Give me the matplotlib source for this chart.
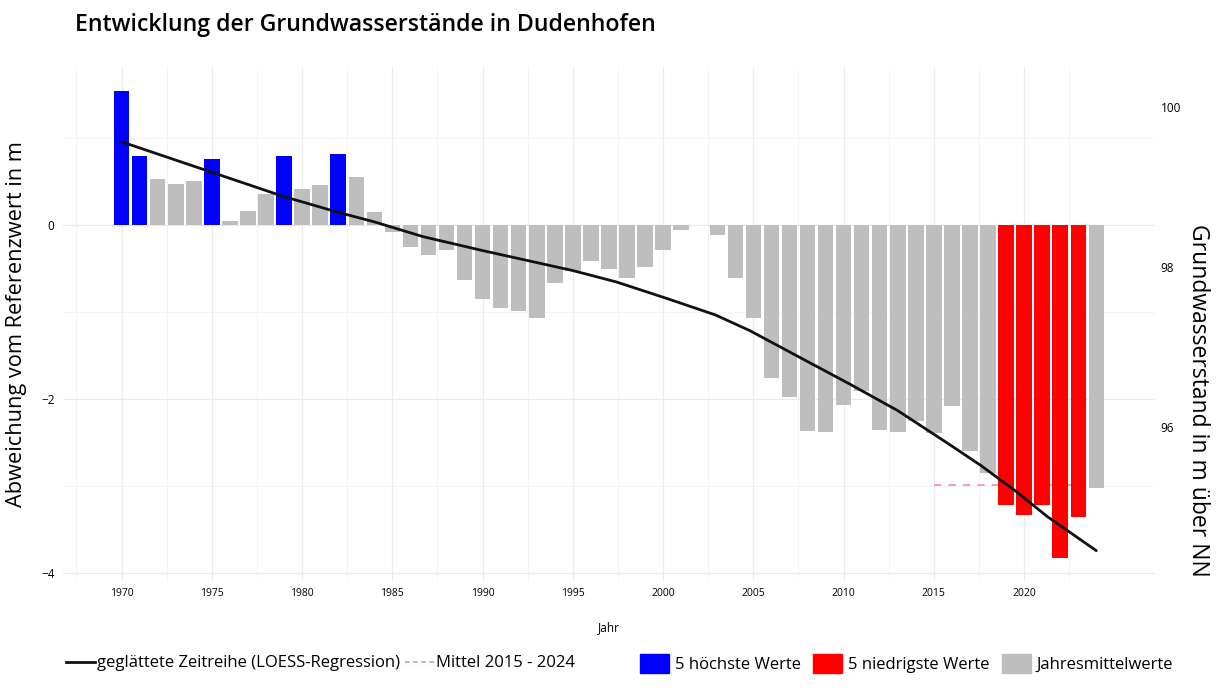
import numpy as np
import matplotlib
matplotlib.use("Agg")
import matplotlib.pyplot as plt
from matplotlib.patches import Patch
from matplotlib.lines import Line2D

plt.rcParams['font.family'] = ['Open Sans', 'DejaVu Sans']

# Jahresmittel der Abweichung vom Referenzwert (m), 2002 ohne Wert
jahre = np.arange(1970, 2025)
abweichung = [
    1.55, 0.80, 0.53, 0.48, 0.51, 0.76, 0.05, 0.16, 0.36, 0.80,   # 1970-1979
    0.42, 0.46, 0.82, 0.56, 0.15, -0.08, -0.25, -0.34, -0.28, -0.63,  # 1980-1989
    -0.85, -0.95, -0.98, -1.07, -0.66, -0.53, -0.41, -0.50, -0.61, -0.48,  # 1990-1999
    -0.28, -0.05, np.nan, -0.11, -0.61, -1.07, -1.75, -1.97, -2.36, -2.38,  # 2000-2009
    -2.07, -1.90, -2.35, -2.38, -2.25, -2.39, -2.08, -2.59, -2.85, -3.22,  # 2010-2019
    -3.33, -3.22, -3.82, -3.35, -3.02,  # 2020-2024
]

# geglaettete Zeitreihe (LOESS)
trend_jahre = [1970, 1975, 1979, 1982, 1984, 1986.7, 1990, 1995, 1997.4, 2000.2,
               2002.9, 2004.8, 2007.5, 2010.3, 2013, 2015.8, 2017.6, 2019.5, 2021.3, 2024]
trend_werte = [0.96, 0.61, 0.33, 0.15, 0.04, -0.13, -0.29, -0.52, -0.65, -0.84,
               -1.03, -1.21, -1.51, -1.82, -2.13, -2.51, -2.76, -3.05, -3.35, -3.74]

mittel_von, mittel_bis = 2015, 2024

# rechte Achse: Grundwasserstand in m ueber NN
NN_BASIS = 96.0
NN_NULL = -2.322
NN_FAKTOR = 1.0876


def zu_nn(y):
    return NN_BASIS + (y - NN_NULL) * NN_FAKTOR


def von_nn(h):
    return NN_NULL + (h - NN_BASIS) / NN_FAKTOR


BLAU = '#0000ff'
ROT = '#ff0000'
GRAU = '#bebebe'
TREND = '#111111'
MITTEL = '#eb9ba3'

werte = np.array(abweichung, dtype=float)
farben = np.array([GRAU] * len(werte), dtype=object)
farben[np.argsort(-werte)[:5]] = BLAU   # nan landet hinten
farben[np.argsort(werte)[:5]] = ROT

maske = (jahre >= mittel_von) & (jahre <= mittel_bis)
mittel = np.nanmean(werte[maske])

fig = plt.figure(figsize=(12.2, 6.91), dpi=100)
ax = fig.add_axes([0.0516, 0.159, 0.8951, 0.744])

ax.hlines(mittel, mittel_von, mittel_bis, colors=MITTEL, linestyles=(0, (4, 4)),
          linewidth=1.3, zorder=1)
ax.bar(jahre, werte, width=0.86, color=list(farben), zorder=2)
ax.plot(trend_jahre, trend_werte, color=TREND, linewidth=2.0, zorder=3,
        solid_capstyle='round')

ax.set_xlim(1966.75, 2027.25)
ax.set_ylim(-4.09, 1.82)
ax.set_xticks(range(1970, 2021, 5))
ax.set_xticks(np.arange(1967.5, 2027, 5), minor=True)
ax.set_yticks([-4, -2, 0])
ax.set_yticks([-3, -1, 1], minor=True)
ax.grid(True, which='major', color='#ebebeb', linewidth=0.9, zorder=0)
ax.grid(True, which='minor', color='#f3f3f3', linewidth=0.6, zorder=0)
ax.set_axisbelow(True)
for s in ax.spines.values():
    s.set_visible(False)
ax.tick_params(which='both', length=0)
ax.tick_params(axis='x', labelsize=7.5, pad=5)
ax.tick_params(axis='y', labelsize=8.5, pad=6)
ax.set_xlabel('Jahr', fontsize=8.5, labelpad=16)
ax.set_ylabel('Abweichung vom Referenzwert in m', fontsize=15.7, labelpad=10)

ax2 = ax.secondary_yaxis('right', functions=(zu_nn, von_nn))
ax2.set_yticks([96, 98, 100])
ax2.tick_params(length=0, labelsize=8.5, pad=4)
ax2.spines['right'].set_visible(False)

# Beschriftung der rechten Achse sitzt tiefer als die Achsmitte
fig.text(0.982, 0.421, 'Grundwasserstand in m über NN', fontsize=16.5,
         rotation=270, ha='center', va='center')

fig.text(0.0615, 0.964, 'Entwicklung der Grundwasserstände in Dudenhofen',
         fontsize=16.7, fontweight='semibold', va='center')

linien = [Line2D([], [], color=TREND, linewidth=2.0),
          Line2D([], [], color=MITTEL, linewidth=1.3, linestyle=(0, (2.5, 2)))]
fig.legend(linien, ['geglättete Zeitreihe (LOESS-Regression)', 'Mittel 2015 - 2024'],
           loc='center left', bbox_to_anchor=(0.0541, 0.04), ncol=2, frameon=False,
           fontsize=12, handlelength=1.75, handletextpad=0.12, columnspacing=0.3,
           borderpad=0, borderaxespad=0)

felder = [Patch(color=BLAU), Patch(color=ROT), Patch(color=GRAU)]
fig.legend(felder, ['5 höchste Werte', '5 niedrigste Werte', 'Jahresmittelwerte'],
           loc='center left', bbox_to_anchor=(0.5246, 0.04), ncol=3, frameon=False,
           fontsize=12, handlelength=1.74, handleheight=1.44, handletextpad=0.36,
           columnspacing=0.72, borderpad=0, borderaxespad=0)

fig.savefig('out.png', dpi=100)
